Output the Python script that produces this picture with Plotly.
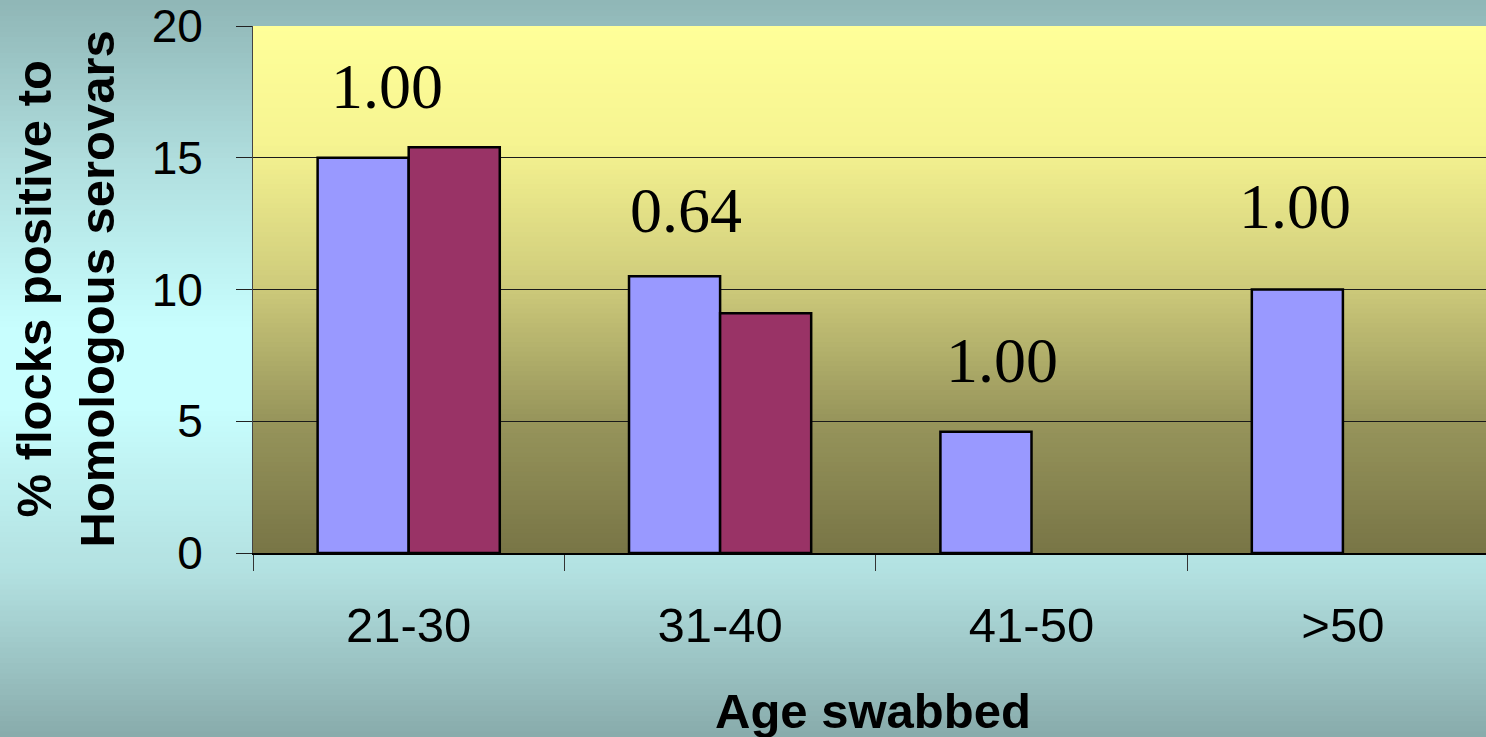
import plotly.graph_objects as go

# ---------------- data ----------------
categories = ["21-30", "31-40", "41-50", ">50"]
series_a = [15.0, 10.5, 4.6, 10.0]          # lavender bars
series_b = [15.4, 9.1, None, None]          # maroon bars
p_values = ["1.00", "0.64", "1.00", "1.00"]
y_ticks = [0, 5, 10, 15, 20]

# ---------------- layout constants ----------------
W, H = 1486, 737
ML, MR, MT, MB = 253, 0, 26, 184
PW, PH = W - ML - MR, H - MT - MB

label_x_offset = [-0.071, -0.109, -0.096, -0.155]
label_y = [17.7, 13.0, 7.3, 13.15]


def lerp_stops(stops, t):
    for (t0, c0), (t1, c1) in zip(stops[:-1], stops[1:]):
        if t0 <= t <= t1:
            f = 0 if t1 == t0 else (t - t0) / (t1 - t0)
            return tuple(round(a + (b - a) * f) for a, b in zip(c0, c1))
    return stops[-1][1]


page_stops = [
    (0.0, (143, 182, 182)),
    (0.22, (176, 222, 222)),
    (0.45, (200, 254, 254)),
    (0.55, (200, 254, 254)),
    (0.78, (178, 224, 224)),
    (1.0, (136, 171, 171)),
]
plot_stops = [
    (0.0, (255, 255, 153)),
    (0.22, (246, 244, 145)),
    (0.48, (208, 205, 124)),
    (0.74, (152, 150, 92)),
    (1.0, (120, 117, 70)),
]

shapes = []
N = 140
for i in range(N):
    t = (i + 0.5) / N
    r, g, b = lerp_stops(page_stops, t)
    py0, py1 = i * H / N, (i + 1) * H / N + 1
    shapes.append(dict(
        type="rect", xref="paper", yref="paper", layer="below",
        x0=-ML / PW - 0.01, x1=1.01,
        y0=(H - MB - py1) / PH, y1=(H - MB - py0) / PH,
        fillcolor=f"rgb({r},{g},{b})", line=dict(width=0),
    ))
N2 = 110
for i in range(N2):
    t = (i + 0.5) / N2
    r, g, b = lerp_stops(plot_stops, t)
    y1 = 1 - i / N2
    y0 = max(0, 1 - (i + 1) / N2 - 0.004)
    shapes.append(dict(
        type="rect", xref="paper", yref="paper", layer="below",
        x0=0, x1=1, y0=y0, y1=y1,
        fillcolor=f"rgb({r},{g},{b})", line=dict(width=0),
    ))

fig = go.Figure()
fig.add_trace(go.Bar(
    x=categories, y=series_a, name="A",
    marker=dict(color="#9999FF", line=dict(color="black", width=2.5)),
))
fig.add_trace(go.Bar(
    x=categories, y=series_b, name="B",
    marker=dict(color="#993366", line=dict(color="black", width=2.5)),
))

annotations = []
for i, (txt, dx, yy) in enumerate(zip(p_values, label_x_offset, label_y)):
    annotations.append(dict(
        x=i + dx, y=yy, xref="x", yref="y", text=txt, showarrow=False,
        font=dict(family="Liberation Serif, Times New Roman, serif", size=64, color="black"),
        xanchor="center", yanchor="middle",
    ))

annotations.append(dict(
    x=(65 - ML) / PW, y=0.5, xref="paper", yref="paper",
    text="% flocks positive to<br>Homologous serovars", showarrow=False,
    textangle=-90, xanchor="center", yanchor="middle",
    font=dict(family="Liberation Sans, Arial, sans-serif", size=49, color="black", weight="bold"),
))
annotations.append(dict(
    x=(873 - ML) / PW, y=(H - MB - 711) / PH, xref="paper", yref="paper",
    text="Age swabbed", showarrow=False, xanchor="center", yanchor="middle",
    font=dict(family="Liberation Sans, Arial, sans-serif", size=49, color="black", weight="bold"),
))

fig.update_layout(
    width=W, height=H,
    margin=dict(l=ML, r=MR, t=MT, b=MB, pad=0),
    paper_bgcolor="rgb(190,240,240)",
    plot_bgcolor="rgba(0,0,0,0)",
    barmode="group", bargap=0.415, bargroupgap=0,
    showlegend=False,
    shapes=shapes,
    annotations=annotations,
    xaxis=dict(
        type="category", range=[-0.5, -0.5 + PW / 311.4],
        tickson="boundaries", ticks="outside", ticklen=16, tickwidth=1, tickcolor="#333",
        showline=True, linecolor="black", linewidth=1.5,
        showgrid=False, zeroline=False,
        tickfont=dict(family="Liberation Sans, Arial, sans-serif", size=49, color="black"),
        ticklabelstandoff=28,
        automargin=False,
    ),
    yaxis=dict(
        range=[0, 20], tickvals=y_ticks,
        ticks="outside", ticklen=16, tickwidth=1, tickcolor="#222",
        showline=True, linecolor="#444", linewidth=1,
        showgrid=True, gridcolor="#1a1a1a", gridwidth=1, zeroline=False,
        tickfont=dict(family="Liberation Sans, Arial, sans-serif", size=46, color="black"),
        ticklabelstandoff=24,
        automargin=False,
    ),
)

fig.write_html(
    "out.html",
    config={"displayModeBar": False},
    post_script="document.body.style.margin='0';document.body.style.overflow='hidden';",
)
